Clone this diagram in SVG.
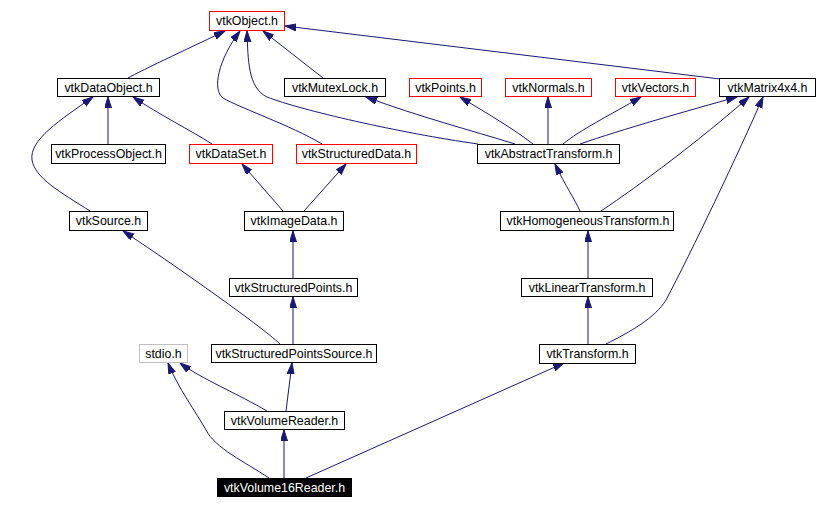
<svg xmlns="http://www.w3.org/2000/svg" width="817" height="509" viewBox="0 0 817 509">
<style>
.n rect{fill:#fff;stroke:#000;stroke-width:1}
.n.r rect{stroke:#ff0000}
.n.g rect{stroke:#bfbfbf}
.n text{font-family:"Liberation Sans",Arial,sans-serif;font-size:12.4px;fill:#000;text-anchor:middle}
.n.k rect{fill:#000;stroke:#000}
.n.k text{fill:#fff}
#edges path{fill:none;stroke:#191970;stroke-width:1;marker-end:url(#ah)}
</style>
<defs>
<marker id="ah" markerUnits="userSpaceOnUse" markerWidth="12" markerHeight="8" refX="11" refY="3.5" orient="auto" viewBox="0 0 12 8">
<path d="M0,0 L11,3.5 L0,7 z" fill="#191970" stroke="#191970" stroke-width="1"/>
</marker>
</defs>
<rect width="817" height="509" fill="#fff"/>
<g id="edges">
<path d="M128,78 C140,71 200,43 225,31"/>
<path d="M322,144 C290,125 240,108 223,98 C212,90 218,60 240,31"/>
<path d="M478,144 C400,133 300,110 267,97 C248,88 248,60 247,31"/>
<path d="M323,78 L263,31"/>
<path d="M720,79 L285,26"/>
<path d="M108,144 L108,97"/>
<path d="M90,211 C60,192 35,178 32,160 C29,140 60,120 93,97"/>
<path d="M212,144 C190,130 160,115 133,97"/>
<path d="M280,344 C260,325 170,262 123,231"/>
<path d="M283,211 L242,164"/>
<path d="M304,211 L346,164"/>
<path d="M293,278 L293,231"/>
<path d="M293,344 L293,297"/>
<path d="M533,144 C515,130 490,115 460,97"/>
<path d="M548,144 L548,97"/>
<path d="M563,144 C580,130 610,115 641,97"/>
<path d="M580,144 C620,130 690,110 737,97"/>
<path d="M515,144 C470,130 420,117 366,97"/>
<path d="M580,211 C575,200 565,185 555,164"/>
<path d="M601,211 C640,185 700,140 749,97"/>
<path d="M588,278 L588,231"/>
<path d="M588,344 L588,297"/>
<path d="M606,344 C630,332 655,318 666,300 C690,255 740,150 763,97"/>
<path d="M267,411 C240,395 200,378 180,363"/>
<path d="M286,411 L292,363"/>
<path d="M269,478 C245,462 215,448 206,430 C196,412 178,388 168,363"/>
<path d="M284,478 L284,430"/>
<path d="M306,478 L564,363"/>
</g>
<g id="vtkObject" class="n r"><rect x="209.5" y="11.5" width="75" height="19"/><text x="247" y="25">vtkObject.h</text></g>
<g id="vtkDataObject" class="n"><rect x="57.5" y="78.5" width="102" height="18"/><text x="108.5" y="92">vtkDataObject.h</text></g>
<g id="vtkMutexLock" class="n"><rect x="284.5" y="78.5" width="101" height="18"/><text x="335" y="92">vtkMutexLock.h</text></g>
<g id="vtkPoints" class="n r"><rect x="409.5" y="78.5" width="72" height="18"/><text x="445.5" y="92">vtkPoints.h</text></g>
<g id="vtkNormals" class="n r"><rect x="505.5" y="78.5" width="86" height="18"/><text x="548.5" y="92">vtkNormals.h</text></g>
<g id="vtkVectors" class="n r"><rect x="615.5" y="78.5" width="80" height="18"/><text x="655.5" y="92">vtkVectors.h</text></g>
<g id="vtkMatrix4x4" class="n"><rect x="719.5" y="78.5" width="96" height="18"/><text x="767.5" y="92">vtkMatrix4x4.h</text></g>
<g id="vtkProcessObject" class="n"><rect x="51.5" y="144.5" width="114" height="19"/><text x="108.5" y="158">vtkProcessObject.h</text></g>
<g id="vtkDataSet" class="n r"><rect x="189.5" y="144.5" width="83" height="19"/><text x="231" y="158">vtkDataSet.h</text></g>
<g id="vtkStructuredData" class="n r"><rect x="296.5" y="144.5" width="120" height="19"/><text x="356.5" y="158">vtkStructuredData.h</text></g>
<g id="vtkAbstractTransform" class="n"><rect x="477.5" y="144.5" width="142" height="19"/><text x="548.5" y="158">vtkAbstractTransform.h</text></g>
<g id="vtkSource" class="n"><rect x="69.5" y="211.5" width="78" height="19"/><text x="108.5" y="225">vtkSource.h</text></g>
<g id="vtkImageData" class="n"><rect x="244.5" y="211.5" width="99" height="19"/><text x="294" y="225">vtkImageData.h</text></g>
<g id="vtkHomogeneousTransform" class="n"><rect x="500.5" y="211.5" width="173" height="19"/><text x="588" y="225">vtkHomogeneousTransform.h</text></g>
<g id="vtkStructuredPoints" class="n"><rect x="229.5" y="278.5" width="128" height="18"/><text x="293.5" y="292">vtkStructuredPoints.h</text></g>
<g id="vtkLinearTransform" class="n"><rect x="521.5" y="278.5" width="131" height="18"/><text x="587" y="292">vtkLinearTransform.h</text></g>
<g id="stdio" class="n g"><rect x="139.5" y="344.5" width="48" height="18"/><text x="163.5" y="358">stdio.h</text></g>
<g id="vtkStructuredPointsSource" class="n"><rect x="211.5" y="344.5" width="165" height="18"/><text x="294" y="358">vtkStructuredPointsSource.h</text></g>
<g id="vtkTransform" class="n"><rect x="539.5" y="344.5" width="96" height="19"/><text x="587.5" y="358">vtkTransform.h</text></g>
<g id="vtkVolumeReader" class="n"><rect x="224.5" y="411.5" width="120" height="18"/><text x="284.5" y="425">vtkVolumeReader.h</text></g>
<g id="vtkVolume16Reader" class="n k"><rect x="217.5" y="478.5" width="134" height="18"/><text x="284.5" y="492">vtkVolume16Reader.h</text></g>
</svg>
